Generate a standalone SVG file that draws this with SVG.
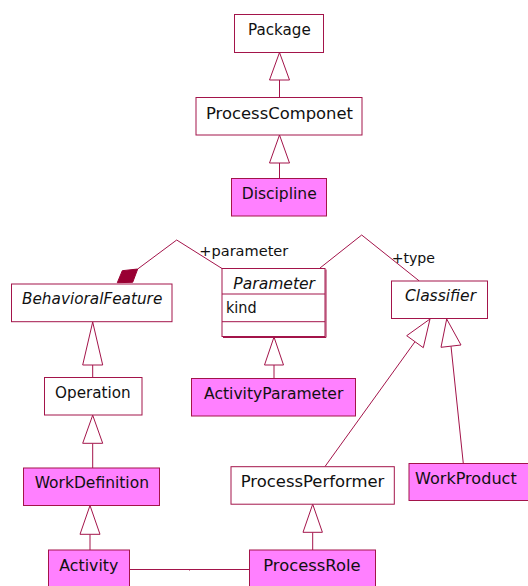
<svg xmlns="http://www.w3.org/2000/svg" width="528" height="586" viewBox="0 0 528 586">
<style>
.box{fill:#ffffff;stroke:#a3144a;stroke-width:1}
.pink{fill:#ff80ff;stroke:#a3144a;stroke-width:1}
.ln{fill:none;stroke:#a3144a;stroke-width:1}
.tri{fill:#ffffff;stroke:#a3144a;stroke-width:1}
text{font-family:"DejaVu Sans","Liberation Sans",sans-serif;font-size:15px;fill:#111111}
.it{font-style:italic}
.sm{font-size:14px}
</style>
<rect width="528" height="586" fill="#ffffff"/>
<g id="connectors">
  <!-- Package <- ProcessComponet -->
  <line class="ln" x1="279.5" y1="80" x2="279.5" y2="97.5"/>
  <polygon class="tri" points="279.5,52.5 269.5,80 289.5,80"/>
  <!-- ProcessComponet <- Discipline -->
  <line class="ln" x1="279.5" y1="163" x2="279.5" y2="178.5"/>
  <polygon class="tri" points="279.5,135 269.5,163 289.5,163"/>
  <!-- BehavioralFeature composition Parameter -->
  <polyline class="ln" points="137.7,269 176.7,240 222,268.5"/>
  <polygon points="117.3,282.7 122.3,270.7 137.7,269 132.7,282.3" fill="#990033" stroke="#990033" stroke-width="1"/>
  <text class="sm" x="199.3" y="256" textLength="89" lengthAdjust="spacingAndGlyphs">+parameter</text>
  <!-- Parameter association Classifier -->
  <polyline class="ln" points="320,268 361.7,235 419.3,281"/>
  <text class="sm" x="391.7" y="263" textLength="43.3" lengthAdjust="spacingAndGlyphs">+type</text>
  <!-- BehavioralFeature <- Operation -->
  <line class="ln" x1="92.7" y1="365" x2="92.7" y2="377.5"/>
  <polygon class="tri" points="92.7,322 82.7,365 102.7,365"/>
  <!-- Operation <- WorkDefinition -->
  <line class="ln" x1="92.7" y1="443.3" x2="92.7" y2="468"/>
  <polygon class="tri" points="92.7,415.2 82.7,443.3 102.7,443.3"/>
  <!-- WorkDefinition <- Activity -->
  <line class="ln" x1="90" y1="534.3" x2="90" y2="550"/>
  <polygon class="tri" points="90,505.5 80,534.3 100,534.3"/>
  <!-- Parameter <- ActivityParameter -->
  <line class="ln" x1="274" y1="365" x2="274" y2="378.5"/>
  <polygon class="tri" points="274,337 264.5,365 283.5,365"/>
  <!-- Classifier <- ProcessPerformer -->
  <line class="ln" x1="415" y1="341.7" x2="325" y2="466.5"/>
  <polygon class="tri" points="430,319 406.7,335.7 423.3,347.7"/>
  <!-- Classifier <- WorkProduct -->
  <line class="ln" x1="451" y1="346.2" x2="463.3" y2="463.5"/>
  <polygon class="tri" points="446.7,319 441,347.3 461,345"/>
  <!-- ProcessPerformer <- ProcessRole -->
  <line class="ln" x1="312.7" y1="532.3" x2="312.7" y2="550"/>
  <polygon class="tri" points="312.7,504.2 303,532.3 322.4,532.3"/>
  <!-- Activity - ProcessRole -->
  <line class="ln" x1="130" y1="569.5" x2="249.3" y2="569.5"/>
  <line class="ln" x1="189.5" y1="569.5" x2="189.5" y2="570.5"/>
</g>
<g id="Package">
  <rect class="box" x="234.5" y="14.5" width="89" height="38"/>
  <text x="248" y="34.5" textLength="62.7" lengthAdjust="spacingAndGlyphs">Package</text>
</g>
<g id="ProcessComponet">
  <rect class="box" x="196" y="97.5" width="166" height="37.5"/>
  <text x="206" y="118.5" textLength="147" lengthAdjust="spacingAndGlyphs">ProcessComponet</text>
</g>
<g id="Discipline">
  <rect class="pink" x="231.5" y="178.5" width="95" height="37.5"/>
  <text x="241.7" y="198.5" textLength="75" lengthAdjust="spacingAndGlyphs">Discipline</text>
</g>
<g id="BehavioralFeature">
  <rect class="box" x="11.5" y="284" width="160.5" height="37.7"/>
  <text class="it" x="22" y="303.5" textLength="140.3" lengthAdjust="spacingAndGlyphs">BehavioralFeature</text>
</g>
<g id="Parameter">
  <rect class="box" x="222" y="268.5" width="103" height="68"/>
  <line class="ln" x1="222" y1="294" x2="325" y2="294"/>
  <line class="ln" x1="222" y1="321.7" x2="325" y2="321.7"/>
  <line x1="326" y1="269.5" x2="326" y2="337.5" stroke="#a3144a" stroke-width="1"/>
  <line x1="223" y1="337.5" x2="326" y2="337.5" stroke="#a3144a" stroke-width="1"/>
  <text class="it" x="233.3" y="288.5" textLength="81.7" lengthAdjust="spacingAndGlyphs">Parameter</text>
  <text x="226" y="312.5" textLength="30.7" lengthAdjust="spacingAndGlyphs">kind</text>
</g>
<g id="Classifier">
  <rect class="box" x="391.5" y="281" width="96" height="37.5"/>
  <text class="it" x="405" y="301" textLength="71" lengthAdjust="spacingAndGlyphs">Classifier</text>
</g>
<g id="Operation">
  <rect class="box" x="44.5" y="377.5" width="97.5" height="37.5"/>
  <text x="55" y="397.5" textLength="75.7" lengthAdjust="spacingAndGlyphs">Operation</text>
</g>
<g id="ActivityParameter">
  <rect class="pink" x="191.5" y="378.5" width="164" height="37.5"/>
  <text x="204" y="398.5" textLength="139.3" lengthAdjust="spacingAndGlyphs">ActivityParameter</text>
</g>
<g id="WorkDefinition">
  <rect class="pink" x="23.5" y="468" width="136" height="37.5"/>
  <text x="34.7" y="488" textLength="114.3" lengthAdjust="spacingAndGlyphs">WorkDefinition</text>
</g>
<g id="ProcessPerformer">
  <rect class="box" x="231" y="466.7" width="163.3" height="37.5"/>
  <text x="240.7" y="487" textLength="143.7" lengthAdjust="spacingAndGlyphs">ProcessPerformer</text>
</g>
<g id="WorkProduct">
  <rect class="pink" x="409" y="463.5" width="125" height="37"/>
  <text x="415" y="483.5" textLength="101.7" lengthAdjust="spacingAndGlyphs">WorkProduct</text>
</g>
<g id="Activity">
  <rect class="pink" x="48.5" y="550" width="81" height="50"/>
  <text x="59.3" y="571" textLength="59" lengthAdjust="spacingAndGlyphs">Activity</text>
</g>
<g id="ProcessRole">
  <rect class="pink" x="249.5" y="550" width="126" height="50"/>
  <text x="263.3" y="571" textLength="97.3" lengthAdjust="spacingAndGlyphs">ProcessRole</text>
</g>
</svg>
